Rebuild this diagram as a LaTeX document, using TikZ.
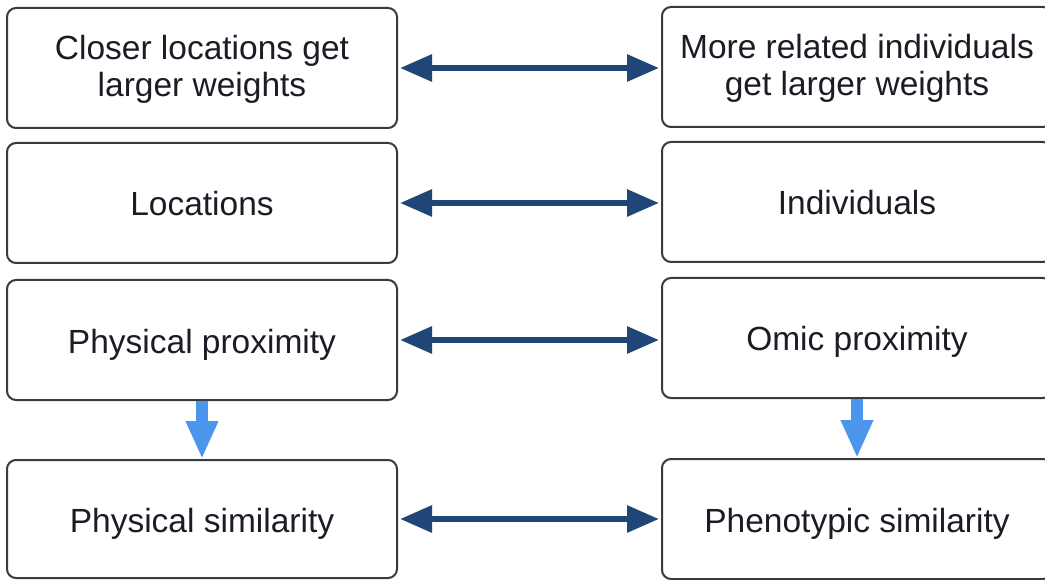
\documentclass[tikz,border=0pt]{standalone}
\usepackage{fontspec}
\setmainfont{Liberation Sans}
\usetikzlibrary{arrows.meta}
\definecolor{boxline}{HTML}{3A3A3A}
\definecolor{txt}{HTML}{1C1C26}
\definecolor{darkarrow}{HTML}{1F4676}
\definecolor{lightarrow}{HTML}{4C95EC}
% one line of box text with fixed height/depth, so every line sits the same way
\newcommand\oneline[1]{\rule{0pt}{26pt}\smash{#1}}
\newcommand\twoline[1]{\rule[-1pt]{0pt}{23pt}\smash{#1}}
\begin{document}
\begin{tikzpicture}[x=1pt,y=-1pt,
  cbox/.style={draw=boxline, line width=2pt, rounded corners=9pt, fill=white,
    minimum width=390pt, minimum height=120pt, align=center, text=txt,
    font=\fontsize{33.5}{37}\selectfont, inner sep=0pt},
  harrow/.style={draw=darkarrow, line width=6pt,
    {Triangle[length=32pt,width=26pt]}-{Triangle[length=32pt,width=26pt]},
    shorten <=2pt, shorten >=2pt},
  varrow/.style={draw=lightarrow, line width=12pt,
    -{Triangle[length=38pt,width=30pt]}}
]
\useasboundingbox (0,0) rectangle (1045,580);
\clip (0,0) rectangle (1045,580);
\fill[white] (0,0) rectangle (1045,580);

\node[cbox] (l1) at (202,68) {\twoline{Closer locations get}\\\twoline{larger weights}};
\node[cbox] (r1) at (857,67) {\twoline{More related individuals}\\\twoline{get larger weights}};
\node[cbox] (l2) at (202,203) {\oneline{Locations}};
\node[cbox] (r2) at (857,202) {\oneline{Individuals}};
\node[cbox] (l3) at (202,340) {\oneline{Physical proximity}};
\node[cbox] (r3) at (857,338) {\oneline{Omic proximity}};
\node[cbox, minimum height=118pt] (l4) at (202,519) {\oneline{Physical similarity}};
\node[cbox] (r4) at (857,519) {\oneline{Phenotypic similarity}};

\draw[harrow] (l1.east) -- (l1.east -| r1.west);
\draw[harrow] (l2.east) -- (l2.east -| r2.west);
\draw[harrow] (l3.east) -- (l3.east -| r3.west);
\draw[harrow] (l4.east) -- (l4.east -| r4.west);

\draw[varrow] (l3.south) -- (l4.north);
\draw[varrow] (r3.south) -- (r4.north);
\end{tikzpicture}
\end{document}
